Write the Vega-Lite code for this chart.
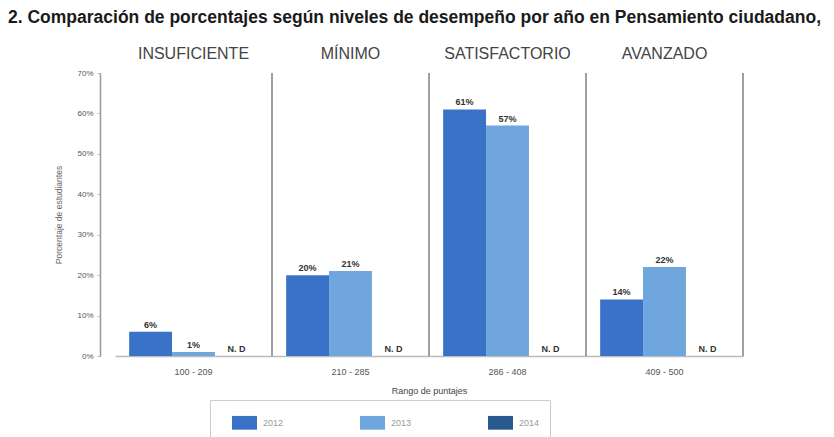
{
  "$schema": "https://vega.github.io/schema/vega-lite/v6.json",
  "autosize": {"type": "none"},
  "width": 628,
  "height": 283,
  "padding": {"left": 115, "top": 73, "right": 91, "bottom": 81},
  "background": "white",
  "config": {
    "view": {"stroke": null},
    "font": "Liberation Sans"
  },
  "title": {
    "text": "2. Comparación de porcentajes según niveles de desempeño por año en Pensamiento ciudadano,",
    "anchor": "start",
    "frame": "group",
    "fontSize": 17.5,
    "fontWeight": "bold",
    "color": "#1a1a1a",
    "dx": -107,
    "dy": -11,
    "offset": 8
  },
  "datasets": {
    "barras": [
      {"rango": "100 - 209", "anio": "2012", "pct": 0.06, "etq": "6%"},
      {"rango": "100 - 209", "anio": "2013", "pct": 0.01, "etq": "1%"},
      {"rango": "100 - 209", "anio": "2014", "pct": null, "etq": "N. D"},
      {"rango": "210 - 285", "anio": "2012", "pct": 0.20, "etq": "20%"},
      {"rango": "210 - 285", "anio": "2013", "pct": 0.21, "etq": "21%"},
      {"rango": "210 - 285", "anio": "2014", "pct": null, "etq": "N. D"},
      {"rango": "286 - 408", "anio": "2012", "pct": 0.61, "etq": "61%"},
      {"rango": "286 - 408", "anio": "2013", "pct": 0.57, "etq": "57%"},
      {"rango": "286 - 408", "anio": "2014", "pct": null, "etq": "N. D"},
      {"rango": "409 - 500", "anio": "2012", "pct": 0.14, "etq": "14%"},
      {"rango": "409 - 500", "anio": "2013", "pct": 0.22, "etq": "22%"},
      {"rango": "409 - 500", "anio": "2014", "pct": null, "etq": "N. D"}
    ],
    "niveles": [
      {"nivel": "INSUFICIENTE"},
      {"nivel": "MÍNIMO"},
      {"nivel": "SATISFACTORIO"},
      {"nivel": "AVANZADO"}
    ]
  },
  "layer": [
    {
      "data": {"name": "barras"},
      "encoding": {
        "x": {
          "field": "rango",
          "type": "nominal",
          "sort": null,
          "scale": {"paddingInner": 0, "paddingOuter": 0},
          "axis": {
            "title": "Rango de puntajes",
            "titleFontSize": 9,
            "titleFontWeight": "normal",
            "titleColor": "#444",
            "titlePadding": 10,
            "labelAngle": 0,
            "labelFontSize": 9,
            "labelColor": "#555",
            "labelPadding": 11,
            "ticks": false,
            "domainColor": "#bbb",
            "domainWidth": 1.5
          }
        },
        "xOffset": {
          "field": "anio",
          "type": "nominal",
          "sort": ["2012", "2013", "2014"],
          "scale": {"domain": ["2012", "2013", "2014"], "paddingInner": 0, "paddingOuter": 0.33}
        }
      },
      "layer": [
        {
          "mark": {"type": "bar"},
          "encoding": {
            "y": {
              "field": "pct",
              "type": "quantitative",
              "scale": {"domain": [0, 0.7]},
              "axis": {
                "title": "Porcentaje de estudiantes",
                "titleFontSize": 8.5,
                "titleFontWeight": "normal",
                "titleColor": "#666",
                "titlePadding": 13,
                "values": [0, 0.1, 0.2, 0.3, 0.4, 0.5, 0.6, 0.7],
                "format": ".0%",
                "labelFontSize": 8,
                "labelColor": "#555",
                "labelPadding": 4,
                "tickSize": 3,
                "tickColor": "#bbb",
                "domainColor": "#999",
                "domainWidth": 1.5,
                "grid": false,
                "offset": 15
              }
            },
            "color": {
              "field": "anio",
              "type": "nominal",
              "scale": {"domain": ["2012", "2013", "2014"], "range": ["#3a72c8", "#6fa6dd", "#28598f"]},
              "legend": {
                "title": null,
                "orient": "none",
                "legendX": 95,
                "legendY": 327,
                "direction": "horizontal",
                "symbolType": "M-1,-0.55H1V0.55H-1Z",
                "symbolSize": 625,
                "symbolStrokeWidth": 0,
                "symbolOffset": 12,
                "labelFontSize": 9,
                "labelColor": "#999",
                "labelOffset": 6,
                "columnPadding": 64,
                "padding": 10,
                "strokeColor": "#ccc",
                "fillColor": "white"
              }
            }
          }
        },
        {
          "mark": {"type": "text", "baseline": "bottom", "dy": -2, "fontSize": 9, "fontWeight": "bold", "color": "#333"},
          "encoding": {
            "y": {"field": "pct", "type": "quantitative"},
            "text": {"field": "etq"}
          }
        },
        {
          "transform": [{"filter": "datum.anio === '2014'"}],
          "mark": {"type": "text", "baseline": "bottom", "dy": -2, "fontSize": 9, "fontWeight": "bold", "color": "#333"},
          "encoding": {
            "y": {"datum": 0},
            "text": {"field": "etq"}
          }
        }
      ]
    },
    {
      "data": {"name": "niveles"},
      "mark": {"type": "rule", "color": "#808080", "strokeWidth": 1.5},
      "encoding": {
        "x": {
          "field": "nivel",
          "type": "nominal",
          "sort": null,
          "bandPosition": 1,
          "scale": {"paddingInner": 0, "paddingOuter": 0},
          "axis": {
            "orient": "top",
            "title": null,
            "domain": false,
            "ticks": false,
            "labelAngle": 0,
            "labelFontSize": 16,
            "labelColor": "#444",
            "labelPadding": 12
          }
        }
      }
    }
  ],
  "resolve": {"scale": {"x": "independent"}, "axis": {"x": "independent"}}
}
